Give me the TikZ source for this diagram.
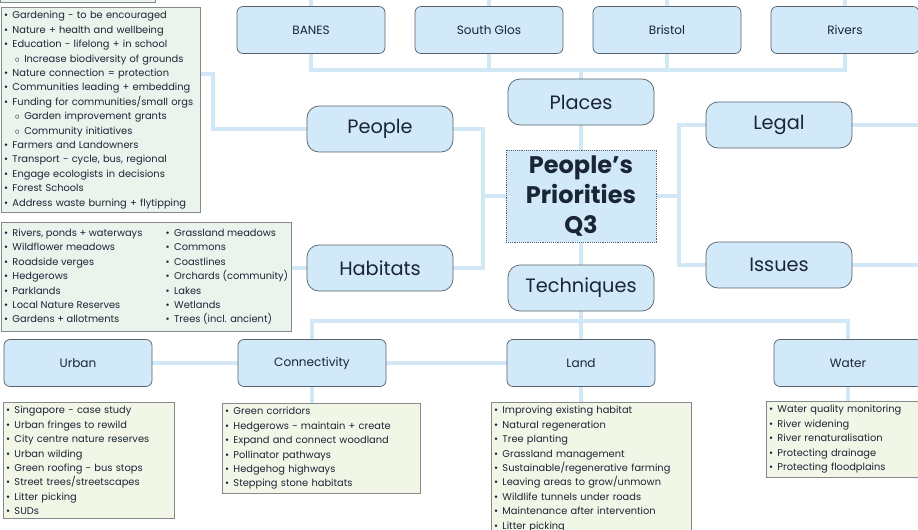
\documentclass[tikz,border=0pt]{standalone}
\usepackage{fontspec}
\setmainfont{Poppins}
\usetikzlibrary{positioning, backgrounds}

\definecolor{boxfill}{HTML}{D1E9F8}
\definecolor{boxline}{HTML}{56616C}
\definecolor{linkblue}{HTML}{D2E8F6}
\definecolor{ink}{HTML}{1A2536}
\definecolor{notegreen}{HTML}{EAF3EC}
\definecolor{noteyellow}{HTML}{F2F6E6}
\definecolor{noteline}{HTML}{85898A}

\newcommand{\itm}{\textbullet\hspace{0.45em}}
\newcommand{\subitm}{\hspace{1.1em}$\circ$\hspace{0.45em}}

\begin{document}
\begin{tikzpicture}[x=0.03cm, y=-0.03cm,
    leaf/.style={rectangle, rounded corners=0.18cm, draw=boxline, line width=0.6pt, fill=boxfill, text=ink,
        minimum width=4.44cm, minimum height=1.41cm, font=\fontsize{10.3}{12}\selectfont},
    topic/.style={rectangle, rounded corners=0.36cm, draw=boxline, line width=0.6pt, fill=boxfill, text=ink,
        minimum width=4.38cm, minimum height=1.38cm, font=\fontsize{16.5}{18}\selectfont},
    core/.style={rectangle, draw=boxline, densely dotted, line width=0.6pt, fill=boxfill, text=ink, align=center,
        minimum width=4.5cm, minimum height=2.76cm, font=\fontsize{20.5}{25.5}\selectfont\bfseries},
    notes/.style={rectangle, draw=noteline, line width=0.6pt, fill=#1, text=ink, align=left, anchor=north west,
        inner xsep=0.08cm, inner ysep=0.12cm, font=\fontsize{8.4}{12.3}\selectfont},
    link/.style={draw=linkblue, line width=3.4pt}
]
    \useasboundingbox (0,0) rectangle (918,530);
    \clip (0,0) rectangle (918,530);

    % cut-off box at the top edge
    \draw[noteline, line width=0.6pt, fill=notegreen] (0,-20) rectangle (155,2);

    % Places row
    \node[leaf] (banes) at (311,30) {BANES};
    \node[leaf] (sglos) at (489,30) {South Glos};
    \node[leaf] (bristol) at (667,30) {Bristol};
    \node[leaf] (rivers) at (845,30) {Rivers};

    % Centre and main topics
    \node[core] (core) at (581,196) {People’s\\Priorities\\Q3};
    \node[topic] (places) at (581,102) {Places};
    \node[topic] (tech) at (581,288) {Techniques};
    \node[topic] (people) at (380,129) {People};
    \node[topic] (habitats) at (380,268) {Habitats};
    \node[topic] (legal) at (779,125) {Legal};
    \node[topic] (issues) at (779,265) {Issues};

    % Techniques row
    \node[leaf] (urban) at (78,363) {Urban};
    \node[leaf] (conn) at (312,363) {Connectivity};
    \node[leaf] (land) at (581,363) {Land};
    \node[leaf] (water) at (848,363) {Water};

    % Note boxes
    \node[notes=notegreen, text width=5.82cm] (plist) at (1,7) {%
        \itm Gardening - to be encouraged\\
        \itm Nature + health and wellbeing\\
        \itm Education - lifelong + in school\\
        \subitm Increase biodiversity of grounds\\
        \itm Nature connection = protection\\
        \itm Communities leading + embedding\\
        \itm Funding for communities/small orgs\\
        \subitm Garden improvement grants\\
        \subitm Community initiatives\\
        \itm Farmers and Landowners\\
        \itm Transport - cycle, bus, regional\\
        \itm Engage ecologists in decisions\\
        \itm Forest Schools\\
        \itm Address waste burning + flytipping};

    \node[notes=notegreen] (hlist) at (1,222) {%
        \begin{tabular}{@{}p{4.85cm}@{}p{3.7cm}@{}}
        \itm Rivers, ponds + waterways & \itm Grassland meadows\\
        \itm Wildflower meadows & \itm Commons\\
        \itm Roadside verges & \itm Coastlines\\
        \itm Hedgerows & \itm Orchards (community)\\
        \itm Parklands & \itm Lakes\\
        \itm Local Nature Reserves & \itm Wetlands\\
        \itm Gardens + allotments & \itm Trees (incl. ancient)
        \end{tabular}};

    \node[notes=noteyellow, text width=4.97cm] (ulist) at (3,402) {%
        \itm Singapore - case study\\
        \itm Urban fringes to rewild\\
        \itm City centre nature reserves\\
        \itm Urban wilding\\
        \itm Green roofing - bus stops\\
        \itm Street trees/streetscapes\\
        \itm Litter picking\\
        \itm SUDs};

    \node[notes=noteyellow, text width=5.78cm] (clist) at (222,403) {%
        \itm Green corridors\\
        \itm Hedgerows - maintain + create\\
        \itm Expand and connect woodland\\
        \itm Pollinator pathways\\
        \itm Hedgehog highways\\
        \itm Stepping stone habitats};

    \node[notes=noteyellow, text width=5.84cm] (llist) at (491,402) {%
        \itm Improving existing habitat\\
        \itm Natural regeneration\\
        \itm Tree planting\\
        \itm Grassland management\\
        \itm Sustainable/regenerative farming\\
        \itm Leaving areas to grow/unmown\\
        \itm Wildlife tunnels under roads\\
        \itm Maintenance after intervention\\
        \itm Litter picking};

    \node[notes=noteyellow, text width=5cm] (wlist) at (766,401) {%
        \itm Water quality monitoring\\
        \itm River widening\\
        \itm River renaturalisation\\
        \itm Protecting drainage\\
        \itm Protecting floodplains};

    % Connectors
    \coordinate (topbus) at (581,70);
    \coordinate (botbus) at (581,321);
    \coordinate (lj) at (483,196);
    \coordinate (rj) at (679,196);
    \coordinate (pj) at (213,74);
    \coordinate (legalend) at (918,125);
    \coordinate (issuesend) at (918,265);

    \begin{scope}[on background layer]
        \foreach \n in {banes,sglos,bristol,rivers} {
            \draw[link] (\n.north) -- ++(0,-12);
        }
        \draw[link] (banes.south) |- (topbus) -| (rivers.south);
        \draw[link] (sglos.south) -- (sglos.south |- topbus);
        \draw[link] (bristol.south) -- (bristol.south |- topbus);
        \draw[link] (places.north) -- (topbus);
        \draw[link] (places.south) -- (core.north);
        \draw[link] (core.south) -- (tech.north);
        \draw[link] (core.west) -- (lj);
        \draw[link] (people.east) -| (lj) |- (habitats.east);
        \draw[link] (core.east) -- (rj);
        \draw[link] (legal.west) -| (rj) |- (issues.west);
        \draw[link] (legal.east) -- (legalend);
        \draw[link] (issues.east) -- (issuesend);
        \draw[link] (people.west) -| (pj) -- (pj -| plist.east);
        \draw[link] (habitats.west) -- (habitats.west -| hlist.east);
        \draw[link] (tech.south) -- (botbus);
        \draw[link] (conn.north) |- (botbus) -| (water.north);
        \draw[link] (land.north) -- (land.north |- botbus);
        \draw[link] (urban.east) -- (conn.west);
        \draw[link] (conn.east) -- (land.west);
        \draw[link] (conn.south) -- (conn.south |- clist.north);
        \draw[link] (land.south) -- (land.south |- llist.north);
        \draw[link] (water.south) -- (water.south |- wlist.north);
    \end{scope}
\end{tikzpicture}
\end{document}
